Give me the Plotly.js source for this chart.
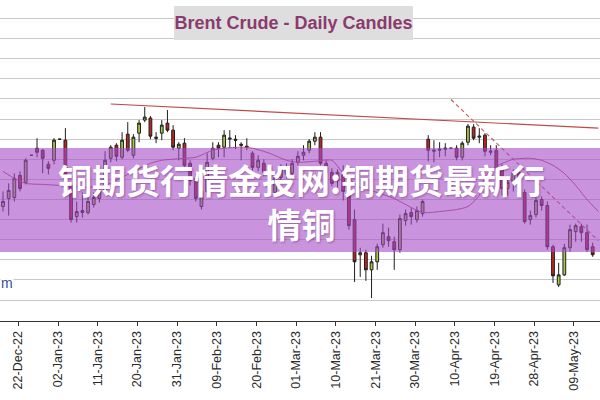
<!DOCTYPE html>
<html>
<head>
<meta charset="utf-8">
<script src="https://cdn.plot.ly/plotly-3.0.1.min.js"></script>
<style>html,body{margin:0;padding:0;background:#fff;}#chart{width:600px;height:400px;}</style>
</head>
<body>
<div id="chart"></div>
<script>
const dates = [
 '19-Dec-22','20-Dec-22','21-Dec-22','22-Dec-22','23-Dec-22','26-Dec-22','27-Dec-22','28-Dec-22','29-Dec-22','30-Dec-22',
 '02-Jan-23','03-Jan-23','04-Jan-23','05-Jan-23','06-Jan-23','09-Jan-23','10-Jan-23','11-Jan-23','12-Jan-23','13-Jan-23',
 '16-Jan-23','17-Jan-23','18-Jan-23','19-Jan-23','20-Jan-23','23-Jan-23','24-Jan-23','25-Jan-23','26-Jan-23','27-Jan-23',
 '30-Jan-23','31-Jan-23',
 '01-Feb-23','02-Feb-23','03-Feb-23','06-Feb-23','07-Feb-23','08-Feb-23','09-Feb-23','10-Feb-23','13-Feb-23','14-Feb-23',
 '15-Feb-23','16-Feb-23','17-Feb-23','20-Feb-23','21-Feb-23','22-Feb-23','23-Feb-23','24-Feb-23','27-Feb-23','28-Feb-23',
 '01-Mar-23','02-Mar-23','03-Mar-23','06-Mar-23','07-Mar-23','08-Mar-23','09-Mar-23','10-Mar-23','13-Mar-23','14-Mar-23',
 '15-Mar-23','16-Mar-23','17-Mar-23','20-Mar-23','21-Mar-23','22-Mar-23','23-Mar-23','24-Mar-23','27-Mar-23','28-Mar-23',
 '29-Mar-23','30-Mar-23','31-Mar-23',
 '03-Apr-23','04-Apr-23','05-Apr-23','06-Apr-23','07-Apr-23','10-Apr-23','11-Apr-23','12-Apr-23','13-Apr-23','14-Apr-23',
 '17-Apr-23','18-Apr-23','19-Apr-23','20-Apr-23','21-Apr-23','24-Apr-23','25-Apr-23','26-Apr-23','27-Apr-23','28-Apr-23',
 '01-May-23','02-May-23','03-May-23','04-May-23','05-May-23','08-May-23','09-May-23','10-May-23','11-May-23','12-May-23',
 '15-May-23'
];
const openP = [
 79.3,80.1,80.2,82.4,81.7,84.4,85.1,84.9,83.5,83.9,
 86.0,85.9,81.4,78.3,78.9,78.7,79.5,80.1,80.9,84.1,
 85.4,84.2,86.5,84.4,86.6,87.9,88.1,86.2,86.6,87.6,
 86.9,85.1,
 85.6,83.6,82.1,79.3,80.8,84.1,85.4,85.2,86.0,86.0,
 85.5,85.3,84.6,83.2,83.6,82.8,80.7,82.2,83.2,82.6,
 83.7,84.4,84.9,85.8,86.2,83.6,82.7,81.9,82.5,80.8,
 78.0,74.5,74.7,73.0,73.8,75.5,76.3,75.8,75.0,77.9,
 78.7,78.0,78.6,
 86.0,84.8,84.9,85.0,85.1,85.1,84.2,85.7,87.2,86.2,
 86.4,84.7,84.9,83.1,81.1,81.7,82.7,80.7,78.0,78.5,
 80.0,79.4,75.3,71.5,72.5,75.2,76.8,77.3,76.7,75.3
];
const highP = [
 80.8,81.6,82.6,82.8,84.1,84.4,86.1,85.0,83.8,86.1,
 86.0,87.1,81.5,79.8,80.7,80.8,80.7,81.2,84.8,85.4,
 85.6,86.7,87.7,86.5,87.9,89.2,88.3,86.7,87.9,88.9,
 87.4,85.7,
 86.1,83.9,82.6,81.1,84.6,85.7,85.7,86.9,86.9,86.4,
 85.7,86.1,84.8,84.4,84.0,83.1,82.4,83.5,83.6,84.0,
 84.8,85.4,86.0,86.7,86.7,83.9,83.1,83.0,83.4,81.2,
 79.0,75.2,75.0,74.4,75.6,77.6,77.2,76.3,78.5,79.0,
 79.2,79.3,80.0,
 86.4,85.9,85.7,85.6,85.1,85.4,85.8,87.5,87.5,87.1,
 86.6,85.4,85.4,83.5,82.0,83.0,82.9,81.0,78.9,80.3,
 80.3,79.8,75.5,73.7,75.6,77.5,77.6,77.6,77.5,75.7
];
const lowP = [
 78.8,78.4,79.8,80.8,81.5,84.4,84.2,82.6,82.5,83.5,
 86.0,81.6,77.7,77.7,78.2,78.5,79.2,79.7,80.6,83.7,
 83.8,84.0,84.7,84.1,85.7,87.7,86.0,85.6,85.9,86.7,
 84.9,83.9,
 83.2,81.4,79.8,79.0,80.6,83.9,84.2,84.2,85.1,85.0,
 83.9,84.9,82.9,82.8,82.3,80.4,80.4,81.6,82.1,82.3,
 83.4,83.9,84.6,85.4,83.4,82.4,81.3,81.2,79.9,77.0,
 71.8,72.3,71.9,70.2,73.0,75.2,75.3,73.0,74.7,77.4,
 77.5,77.7,78.3,
 83.8,83.7,84.2,84.3,85.1,83.9,83.9,85.4,85.9,85.6,
 84.3,84.4,82.9,80.4,80.4,80.8,80.4,77.6,77.5,78.2,
 78.9,75.0,71.7,71.3,72.4,74.8,75.8,75.8,74.8,74.3
];
const closeP = [
 79.8,80.9,82.1,81.1,83.9,84.4,84.7,84.1,83.1,85.9,
 86.0,81.8,78.0,78.8,78.7,79.8,80.2,80.9,83.9,85.2,
 84.3,85.9,84.9,86.2,87.6,88.2,86.3,86.1,87.4,86.9,
 85.2,85.5,
 83.4,81.9,80.1,80.8,83.7,85.1,85.1,86.4,86.1,85.9,
 85.4,85.2,83.2,83.9,82.7,80.6,82.2,83.1,82.5,83.6,
 84.3,84.7,85.8,86.2,83.6,82.7,81.6,82.7,80.8,77.4,
 73.8,74.7,73.0,73.8,75.3,76.7,75.9,75.0,78.1,78.6,
 78.3,78.9,79.8,
 84.9,84.9,85.0,85.1,85.1,84.2,85.6,87.3,86.1,86.3,
 84.8,84.8,83.1,81.1,81.7,82.7,80.8,77.8,78.4,79.9,
 79.4,75.3,72.4,72.5,75.2,77.0,77.4,76.7,75.0,74.5
];
const tickLabels = ['22-Dec-22','02-Jan-23','11-Jan-23','20-Jan-23','31-Jan-23','09-Feb-23','20-Feb-23',
 '01-Mar-23','10-Mar-23','21-Mar-23','30-Mar-23','10-Apr-23','19-Apr-23','28-Apr-23','09-May-23'];
const maDates = ['19-Dec-22','21-Dec-22','23-Dec-22','28-Dec-22','02-Jan-23','06-Jan-23','12-Jan-23','18-Jan-23',
 '24-Jan-23','26-Jan-23','01-Feb-23','03-Feb-23','08-Feb-23','10-Feb-23','15-Feb-23','17-Feb-23','22-Feb-23',
 '27-Feb-23','01-Mar-23','06-Mar-23','09-Mar-23','13-Mar-23','16-Mar-23','21-Mar-23','24-Mar-23','27-Mar-23',
 '31-Mar-23','05-Apr-23','10-Apr-23','12-Apr-23','14-Apr-23','17-Apr-23','19-Apr-23','24-Apr-23','27-Apr-23',
 '01-May-23','03-May-23','05-May-23','09-May-23','11-May-23','15-May-23'];
const maValues = [82.8,82.1,81.6,81.5,81.4,81.2,81.4,82.5,
 83.6,83.9,84.1,84.2,84.9,85.1,85.2,85.1,84.6,
 83.9,83.7,83.8,83.9,82.6,81.2,80.7,80.1,79.8,
 78.7,78.8,79.0,79.3,80.4,82.3,83.3,84.0,84.1,
 83.9,83.4,82.6,81.4,80.0,78.8];
const resistDates = ['13-Jan-23','15-May-23'];
const resistValues = [89.5, 87.1];
const declineDates = ['07-Apr-23','15-May-23'];
const declineValues = [89.95, 75.9];
const overlayText = '铜期货行情金投网:铜期货最新行<br>情铜';

const idx = d => dates.indexOf(d);
const candleX = openP.map((v, i) => i);

const traces = [
 {
  type: 'candlestick', x: candleX, open: openP, high: highP, low: lowP, close: closeP,
  increasing: {line: {color: '#1e1e1e', width: 1}, fillcolor: '#a6c644'},
  decreasing: {line: {color: '#1e1e1e', width: 1}, fillcolor: '#c4221f'},
  whiskerwidth: 0, hoverinfo: 'skip', showlegend: false
 },
 {
  type: 'scatter', mode: 'lines', x: maDates.map(idx), y: maValues,
  line: {color: '#b24a78', width: 1, shape: 'spline', smoothing: 0.6}, hoverinfo: 'skip', showlegend: false
 },
 {
  type: 'scatter', mode: 'lines', x: resistDates.map(idx), y: resistValues,
  line: {color: '#c24848', width: 1.2}, hoverinfo: 'skip', showlegend: false
 },
 {
  type: 'scatter', mode: 'lines', x: declineDates.map(idx), y: declineValues,
  line: {color: '#c45a5a', width: 1.1, dash: '4px,3px'}, hoverinfo: 'skip', showlegend: false
 }
];

const plotH = 321;
const py = p => (plotH - p) / plotH;

const layout = {
 width: 600, height: 400,
 margin: {l: 0, r: 0, t: 0, b: 79, pad: 0},
 paper_bgcolor: '#ffffff', plot_bgcolor: '#ffffff',
 showlegend: false, hovermode: false,
 title: {
  text: 'Brent Crude - Daily Candles',
  font: {family: 'Liberation Sans, Arial, sans-serif', size: 18, color: '#8b3a6e', weight: 'bold'},
  xref: 'container', yref: 'container', x: 293.5 / 600, y: 1 - 23 / 400, xanchor: 'center', yanchor: 'middle'
 },
 xaxis: {
  range: [-0.53, 105.29], rangeslider: {visible: false},
  tickmode: 'array', tickvals: tickLabels.map(d => idx(d) - 0.3), ticktext: tickLabels,
  tickangle: -90, ticks: 'outside', ticklen: 4, tickwidth: 1, tickcolor: '#333',
  showline: true, linecolor: '#333', linewidth: 1, showgrid: false, zeroline: false,
  tickfont: {family: 'Liberation Sans, Arial, sans-serif', size: 12.5, color: '#2a2a2a'}
 },
 yaxis: {
  range: [67.91, 99.85], dtick: 2, tick0: 0, showticklabels: false, ticks: '',
  showgrid: true, gridcolor: '#c9c9c9', gridwidth: 1, zeroline: false, showline: false
 },
 shapes: [
  {type: 'rect', xref: 'paper', yref: 'paper', x0: 174 / 600, x1: 413 / 600, y0: py(40), y1: py(6),
   fillcolor: '#dedede', line: {width: 0}, layer: 'above'},
  {type: 'rect', xref: 'paper', yref: 'paper', x0: 0, x1: 1, y0: py(252), y1: py(148),
   fillcolor: 'rgba(165,75,200,0.6)', line: {width: 0}, layer: 'above'}
 ],
 annotations: [
  {text: overlayText, xref: 'paper', yref: 'paper', x: 301 / 600, y: py(201),
   xanchor: 'center', yanchor: 'middle', align: 'center', showarrow: false,
   font: {family: 'Noto Sans CJK SC, sans-serif', size: 34, color: '#ffffff', weight: 'bold',
          shadow: '1px 1px 2px rgba(60,0,60,0.35)'}},
  {text: 'm', xref: 'paper', yref: 'paper', x: 0, y: py(283),
   xanchor: 'left', yanchor: 'middle', showarrow: false, bgcolor: '#ffffff', borderpad: 0,
   font: {family: 'Liberation Sans, Arial, sans-serif', size: 14, color: '#2f4f9e'}}
 ]
};

Plotly.newPlot('chart', traces, layout, {staticPlot: true, displayModeBar: false});
</script>
</body>
</html>
